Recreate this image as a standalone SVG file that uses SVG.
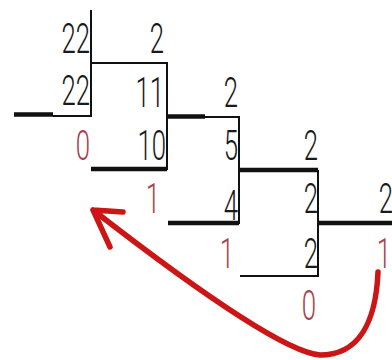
<svg xmlns="http://www.w3.org/2000/svg" width="392" height="360" viewBox="0 0 392 360">
<style>
.t{font-family:Roboto,"Liberation Sans",Arial,sans-serif;font-weight:300;font-size:43px;text-anchor:end;fill:#1a1a1a}
.r{fill:#a8424c}
.thin{stroke:#111;stroke-width:2;fill:none}
.thick{stroke:#111;stroke-width:4.5;fill:none}
.arrow{stroke:#cc1515;stroke-width:5.5;fill:none;stroke-linecap:round;stroke-linejoin:round}
</style>
<rect width="392" height="360" fill="#fff"/>
<g id="lines">
<path class="thin" d="M91,10V117M53,116H91M91,63H167V170M167,117H239V224M240,276H318V170"/>
<path class="thick" d="M14,114.5H53M91,169H167M167,116.5H205M239,170H318M168,223H239M318,223H392"/>
</g>
<g id="col1">
<text class="t" transform="translate(90 53) scale(0.6 1)">22</text>
<text class="t" transform="translate(90 105) scale(0.6 1)">22</text>
<text class="t r" transform="translate(90 160) scale(0.6 1)">0</text>
</g>
<g id="col2">
<text class="t" transform="translate(164 53) scale(0.6 1)">2</text>
<text class="t" transform="translate(164 107) scale(0.6 1)">11</text>
<text class="t" transform="translate(166 160) scale(0.6 1)">10</text>
<text class="t r" transform="translate(160 213) scale(0.6 1)">1</text>
</g>
<g id="col3">
<text class="t" transform="translate(238 107) scale(0.6 1)">2</text>
<text class="t" transform="translate(238 160) scale(0.6 1)">5</text>
<text class="t" transform="translate(238 220) scale(0.6 1)">4</text>
<text class="t r" transform="translate(234 268) scale(0.6 1)">1</text>
</g>
<g id="col4">
<text class="t" transform="translate(318 160) scale(0.6 1)">2</text>
<text class="t" transform="translate(318 213) scale(0.6 1)">2</text>
<text class="t" transform="translate(318 268) scale(0.6 1)">2</text>
<text class="t r" transform="translate(316 320) scale(0.6 1)">0</text>
</g>
<g id="col5">
<text class="t" transform="translate(393 213) scale(0.6 1)">2</text>
<text class="t r" transform="translate(391 268) scale(0.6 1)">1</text>
</g>
<g id="connectors">
<path class="arrow" d="M378,272C376,320 360,355 320,355C280,352 160,262 93,210M93,210L123,212M93,210L110,247"/>
</g>
</svg>
